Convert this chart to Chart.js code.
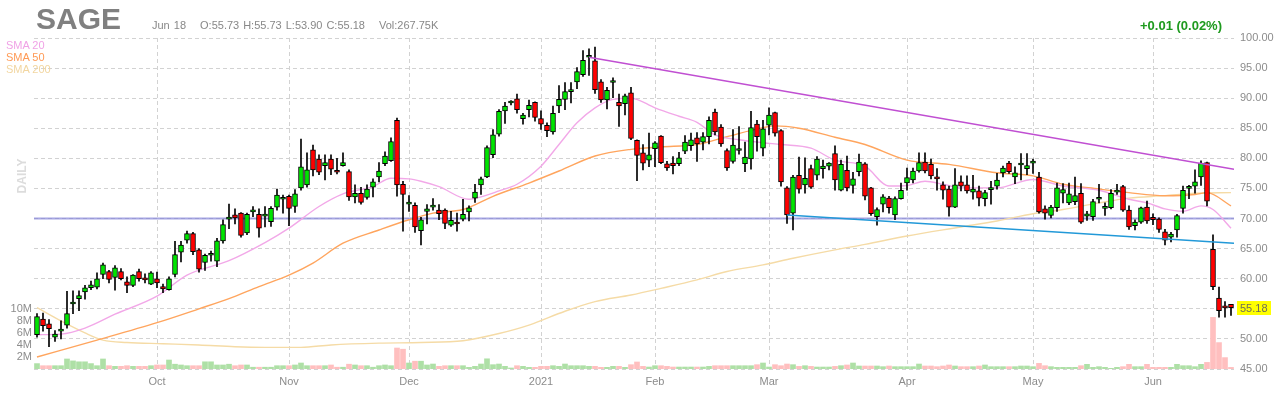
<!DOCTYPE html>
<html>
<head>
<meta charset="utf-8">
<title>SAGE daily</title>
<script src="https://cdn.jsdelivr.net/npm/chart.js@4.4.1/dist/chart.umd.min.js"></script>
<style>
  html, body { margin: 0; padding: 0; background: #fff; }
  #wrap { position: relative; width: 1280px; height: 400px; font-family: 'Liberation Sans', Arial, sans-serif; }
  #chart { position: absolute; left: 0; top: 0; }
  .txt { position: absolute; white-space: nowrap; line-height: 1; }
  #ticker { left: 36px; top: 4px; font-size: 30px; font-weight: bold; color: #808080; }
  #info { left: 152px; top: 20px; font-size: 11px; color: #888; word-spacing: 1px; }
  #info span { margin-right: 14px; }
  #change { right: 58px; top: 19px; font-size: 13px; font-weight: bold; color: #1e9a1e; }
  .leg { left: 6px; font-size: 11px; }
  #daily { left: 2px; top: 170px; width: 40px; text-align: center; font-size: 12px; font-weight: bold; color: #dcdcdc; transform: rotate(-90deg); }
</style>
</head>
<body>
<div id="wrap">
  <canvas id="chart" width="1280" height="400"></canvas>
  <div class="txt" id="ticker">SAGE</div>
  <div class="txt" id="info"><span>Jun 18</span><span style="margin-right:4px">O:55.73</span><span style="margin-right:4px">H:55.73</span><span style="margin-right:4px">L:53.90</span><span>C:55.18</span>Vol:267.75K</div>
  <div class="txt" id="change">+0.01 (0.02%)</div>
  <div class="txt leg" style="top:40px;color:#f0a2e6">SMA 20</div>
  <div class="txt leg" style="top:52px;color:#ff9a55">SMA 50</div>
  <div class="txt leg" style="top:64px;color:#f2d6a0">SMA 200</div>
  <div class="txt" id="daily">DAILY</div>
</div>
<script>
// daily candles, Sep 2 2020 .. Jun 18 2021 (200 sessions)
const opens = [
  50.7, 53.3, 52.5, 50.3, 51.3, 52.3, 55.8, 56.7, 57.8, 58.5,
  58.6, 60.7, 61.2, 60.2, 61.2, 59.5, 58.9, 61.2, 59.9, 59.1,
  60.0, 58.7, 58.2, 60.7, 64.4, 66.4, 67.5, 64.8, 62.7, 63.9,
  62.9, 66.3, 69.9, 70.6, 70.9, 67.6, 71.1, 70.7, 70.4, 69.5,
  71.9, 73.2, 73.7, 72.0, 75.1, 75.6, 81.4, 79.9, 78.8, 79.9,
  77.8, 78.8, 77.8, 73.6, 74.2, 73.5, 75.2, 76.9, 79.1, 79.6,
  86.3, 75.7, 72.4, 72.2, 68.0, 71.2, 71.9, 71.4, 71.4, 68.9,
  69.4, 69.9, 71.1, 73.4, 75.6, 76.9, 80.6, 84.0, 87.9, 89.2,
  89.9, 86.6, 88.1, 89.3, 86.6, 85.5, 84.4, 88.7, 89.8, 91.1,
  92.7, 93.9, 96.8, 96.2, 92.7, 89.7, 92.6, 89.3, 89.1, 90.9,
  83.0, 80.9, 79.7, 81.6, 83.7, 79.1, 79.2, 79.1, 81.2, 82.1,
  83.4, 82.7, 83.6, 87.7, 85.2, 81.3, 79.5, 81.3, 79.1, 79.9,
  85.7, 81.7, 85.5, 87.6, 84.6, 75.1, 70.9, 77.2, 75.6, 78.3,
  77.2, 78.3, 78.7, 80.8, 74.7, 78.0, 75.5, 77.8, 79.1, 75.1,
  70.3, 72.4, 73.4, 70.6, 73.3, 75.9, 76.4, 77.9, 79.4, 79.0,
  76.7, 75.6, 74.9, 71.9, 76.1, 75.6, 74.4, 74.6, 73.3, 74.8,
  75.4, 77.6, 79.2, 76.9, 78.9, 78.3, 79.2, 76.9, 71.6, 70.5,
  71.8, 74.2, 72.6, 72.8, 74.2, 70.4, 70.3, 73.2, 71.7, 71.8,
  74.4, 75.3, 71.4, 68.8, 69.4, 71.9, 70.2, 69.9, 67.8, 66.9,
  68.1, 71.7, 75.0, 75.4, 76.9, 79.3, 64.9, 56.8, 55.4, 55.73
];
const highs = [
  54.2, 54.3, 53.2, 51.4, 53.0, 57.9, 58.0, 58.0, 58.9, 59.6,
  61.0, 62.6, 61.4, 62.2, 61.7, 60.3, 60.7, 61.6, 60.8, 61.2,
  61.1, 59.1, 60.3, 66.2, 66.2, 67.9, 67.7, 65.0, 64.1, 64.6,
  66.7, 69.8, 72.4, 71.6, 71.0, 70.9, 72.0, 71.6, 72.0, 72.0,
  74.9, 73.9, 73.9, 74.8, 83.2, 80.9, 82.2, 80.6, 80.6, 80.6,
  80.0, 80.9, 78.1, 75.6, 75.2, 75.6, 76.6, 79.3, 81.1, 83.4,
  86.7, 76.2, 73.8, 72.6, 70.2, 72.3, 73.3, 72.3, 71.6, 71.2,
  70.9, 73.2, 72.1, 75.7, 76.9, 82.1, 84.8, 88.1, 89.3, 89.6,
  90.7, 87.5, 89.7, 89.4, 87.9, 85.9, 88.7, 92.1, 92.6, 92.6,
  95.1, 97.9, 98.2, 98.5, 93.1, 91.8, 93.4, 90.7, 90.7, 91.8,
  83.1, 82.3, 84.2, 82.8, 83.8, 79.5, 80.3, 81.0, 83.8, 84.2,
  84.3, 84.3, 86.9, 88.2, 85.6, 81.6, 84.8, 85.3, 82.7, 87.8,
  86.3, 86.3, 88.4, 87.7, 84.8, 75.3, 77.2, 80.2, 80.1, 78.9,
  80.3, 79.7, 79.3, 82.1, 79.7, 80.4, 77.7, 80.7, 79.3, 75.2,
  71.8, 74.0, 73.7, 73.6, 75.9, 78.4, 78.4, 80.9, 80.9, 79.9,
  78.3, 76.1, 75.4, 78.3, 77.1, 77.1, 77.2, 75.4, 74.7, 76.2,
  77.5, 78.7, 79.5, 78.6, 80.8, 80.8, 79.9, 77.7, 72.1, 72.2,
  75.9, 75.8, 75.9, 76.9, 75.8, 71.2, 73.2, 75.7, 72.6, 74.8,
  75.7, 75.5, 72.1, 69.8, 71.9, 72.9, 70.8, 70.1, 68.2, 67.7,
  70.7, 75.4, 75.5, 78.1, 79.6, 79.4, 67.3, 58.6, 56.2, 55.73
];
const lows = [
  50.3, 51.3, 48.7, 49.6, 50.0, 51.8, 54.2, 54.7, 56.6, 58.2,
  58.3, 60.0, 59.3, 58.1, 59.8, 57.7, 58.7, 59.6, 59.3, 59.0,
  58.5, 57.7, 58.1, 60.3, 62.8, 65.9, 64.0, 61.1, 61.4, 62.9,
  62.0, 65.9, 68.3, 69.1, 66.9, 67.3, 70.3, 66.9, 68.6, 68.7,
  71.4, 70.9, 68.8, 71.0, 74.7, 75.2, 77.1, 77.3, 76.4, 77.3,
  77.4, 78.7, 73.0, 72.6, 72.4, 73.2, 73.6, 76.1, 78.8, 79.5,
  73.7, 67.9, 71.2, 67.7, 65.6, 69.1, 71.4, 69.8, 68.3, 68.7,
  67.9, 69.6, 69.6, 72.7, 74.0, 76.8, 80.1, 83.7, 85.8, 88.9,
  87.5, 85.7, 86.9, 86.2, 84.8, 83.6, 84.0, 87.6, 88.1, 89.2,
  91.6, 93.6, 93.8, 90.8, 89.3, 88.2, 90.1, 85.3, 87.2, 83.1,
  76.3, 78.1, 78.6, 78.6, 79.1, 78.0, 77.4, 78.8, 80.8, 81.3,
  79.5, 81.4, 82.4, 83.9, 82.0, 78.0, 79.2, 80.7, 77.8, 78.2,
  81.2, 80.4, 83.9, 83.7, 75.4, 69.2, 68.1, 74.2, 74.2, 75.0,
  76.4, 76.7, 78.1, 74.7, 74.6, 74.6, 74.2, 77.1, 73.1, 70.5,
  68.9, 71.1, 70.9, 69.8, 73.2, 74.7, 75.9, 77.7, 77.6, 76.6,
  74.7, 73.2, 70.4, 71.8, 74.6, 74.2, 73.2, 72.1, 72.1, 72.4,
  74.9, 76.9, 77.5, 75.8, 76.4, 77.3, 77.5, 70.9, 69.9, 70.1,
  71.2, 72.6, 72.3, 72.3, 69.2, 69.7, 69.7, 72.6, 70.5, 71.6,
  74.0, 71.2, 68.2, 68.1, 69.2, 69.2, 69.0, 67.7, 65.6, 66.1,
  66.9, 70.9, 73.3, 74.2, 75.5, 72.1, 58.2, 53.6, 53.6, 53.90
];
const closes = [
  53.7, 52.2, 51.7, 50.8, 51.5, 54.2, 55.9, 57.2, 58.5, 59.0,
  60.0, 62.3, 59.9, 61.8, 60.0, 58.9, 60.6, 60.0, 59.8, 61.0,
  59.3, 58.3, 60.0, 64.0, 65.6, 67.5, 64.5, 61.6, 63.9, 63.9,
  66.3, 69.0, 69.9, 70.1, 67.2, 70.7, 71.4, 68.4, 70.7, 71.7,
  73.9, 73.2, 71.7, 74.1, 78.6, 78.1, 78.1, 77.7, 79.3, 78.2,
  77.7, 79.3, 73.6, 74.2, 72.7, 74.9, 76.1, 77.9, 80.4, 82.8,
  75.6, 74.0, 72.4, 68.6, 69.8, 71.6, 71.9, 70.8, 69.2, 69.7,
  69.1, 70.7, 71.8, 74.4, 76.6, 81.8, 83.9, 87.8, 88.7, 89.3,
  88.1, 87.2, 88.8, 86.8, 85.7, 84.6, 87.5, 89.8, 91.1, 91.2,
  94.4, 96.3, 96.8, 91.4, 89.7, 91.3, 92.6, 88.7, 90.4, 83.3,
  80.5, 79.2, 80.6, 82.6, 79.3, 78.4, 78.8, 80.1, 82.7, 83.1,
  82.4, 83.6, 86.3, 84.4, 82.4, 78.4, 82.2, 81.3, 80.2, 85.1,
  83.6, 84.9, 87.2, 84.2, 76.1, 70.6, 76.9, 74.9, 76.7, 75.2,
  79.9, 78.7, 79.2, 76.4, 79.0, 75.1, 76.6, 79.4, 73.7, 70.8,
  71.5, 73.6, 71.8, 73.3, 74.7, 76.8, 77.9, 79.3, 77.9, 77.1,
  76.6, 74.7, 71.9, 75.6, 75.4, 74.6, 74.9, 73.4, 74.3, 74.8,
  76.4, 78.4, 77.8, 77.6, 78.9, 78.8, 79.2, 71.1, 70.9, 71.9,
  75.1, 74.8, 74.1, 73.8, 69.4, 70.8, 72.8, 73.2, 71.7, 74.2,
  74.4, 71.4, 68.6, 69.4, 71.8, 69.6, 69.8, 68.2, 66.4, 67.4,
  70.5, 74.7, 75.1, 76.1, 79.2, 72.9, 58.7, 54.7, 55.17, 55.18
];
// volume in millions
const volumes = [
  0.9, 0.55, 0.55, 0.55, 0.55, 1.67, 1.35, 1.2, 1.2, 0.9,
  0.55, 1.67, 0.55, 0.45, 0.45, 0.55, 0.45, 0.45, 0.45, 0.55,
  0.67, 0.67, 1.5, 0.8, 0.67, 0.55, 0.55, 0.55, 1.2, 1.2,
  0.67, 0.67, 0.8, 0.55, 0.67, 0.67, 0.3, 0.3, 0.3, 0.3,
  0.55, 0.55, 0.55, 0.67, 1.0, 0.55, 0.55, 0.55, 0.55, 0.67,
  0.3, 0.3, 0.8, 0.67, 0.55, 0.55, 0.3, 0.55, 0.67, 0.55,
  3.5, 3.3, 1.0, 1.3, 1.3, 0.67, 0.83, 0.45, 0.55, 0.55,
  0.55, 0.55, 0.28, 0.45, 0.83, 1.7, 0.72, 0.83, 0.45, 0.17,
  0.55, 0.45, 0.28, 0.28, 0.45, 0.45, 0.55, 0.45, 0.83, 0.55,
  0.55, 0.55, 0.45, 0.45, 0.28, 0.28, 0.45, 0.45, 0.28, 0.72,
  1.17, 0.44, 0.33, 0.55, 0.55, 0.44, 0.33, 0.33, 0.33, 0.33,
  0.33, 0.33, 0.44, 0.55, 0.55, 0.55, 0.55, 0.55, 0.55, 0.55,
  0.72, 1.0, 0.33, 0.72, 0.55, 0.83, 0.72, 0.44, 0.55, 0.44,
  0.33, 0.33, 0.33, 0.44, 0.55, 0.67, 1.0, 0.5, 0.5, 0.5,
  0.5, 0.39, 0.5, 0.39, 0.39, 0.39, 0.39, 0.83, 0.5, 0.5,
  0.39, 0.5, 0.67, 0.5, 0.39, 0.39, 0.39, 0.5, 0.67, 0.39,
  0.39, 0.39, 0.39, 0.39, 0.5, 0.5, 0.39, 0.94, 0.55, 0.39,
  0.28, 0.28, 0.28, 0.28, 0.55, 0.78, 0.28, 0.39, 0.28, 0.11,
  0.28, 0.39, 0.78, 0.39, 0.39, 0.78, 0.28, 0.28, 0.28, 0.28,
  0.78, 0.55, 0.55, 0.39, 0.78, 1.1, 8.6, 4.4, 1.9, 0.268
];

// moving averages: [session index, value]
const sma20 = [
  [0, 50.7], [4, 50.8], [8, 51.8], [13, 54.1], [20, 57.1], [25, 60.6], [32, 63.0],
  [38, 66.0], [42, 68.4], [47, 72.0], [51, 74.1], [56, 75.3], [59, 76.7], [62, 76.6],
  [64, 76.2], [67, 75.3], [72, 73.2], [74, 73.6], [77, 74.6], [80, 75.7], [84, 78.7],
  [87, 82.3], [90, 85.9], [93, 88.4], [96, 89.8], [99, 90.0], [103, 88.4], [107, 87.0],
  [110, 86.0], [113, 83.9], [117, 83.1], [121, 82.6], [124, 82.3], [129, 81.7],
  [133, 79.7], [138, 78.7], [142, 75.4], [145, 75.5], [148, 76.2], [151, 75.7],
  [154, 75.1], [160, 75.1], [166, 76.5], [171, 75.4], [177, 74.7], [182, 73.2],
  [185, 72.6], [188, 71.6], [191, 71.2], [194, 72.1], [196, 71.5], [199, 68.4]
];
const sma50 = [
  [0, 47.0], [10, 49.8], [20, 52.7], [27, 55.0], [32, 56.7], [37, 58.7], [42, 60.6],
  [46, 62.6], [51, 65.9], [57, 68.1], [62, 69.8], [66, 70.9], [71, 71.5], [76, 73.7],
  [82, 75.9], [87, 77.9], [93, 80.4], [99, 81.5], [104, 81.9], [110, 82.3], [115, 83.6],
  [121, 85.1], [123, 85.4], [127, 85.0], [133, 83.5], [138, 82.3], [145, 79.7],
  [152, 79.0], [160, 77.6], [166, 77.1], [171, 75.7], [177, 74.9], [182, 74.3],
  [188, 73.8], [193, 74.0], [195, 74.3], [199, 72.1]
];
const sma200 = [
  [0, 55.2], [4, 53.0], [8, 51.0], [11, 49.8], [15, 49.4], [21, 49.2], [27, 49.0],
  [33, 48.7], [38, 48.6], [44, 48.6], [49, 49.0], [57, 49.3], [64, 49.4], [71, 49.7],
  [77, 50.9], [82, 52.3], [88, 54.6], [93, 56.2], [99, 57.3], [104, 58.4], [110, 59.8],
  [115, 61.2], [121, 62.3], [126, 63.4], [133, 64.8], [138, 65.7], [145, 67.1],
  [154, 68.6], [160, 69.6], [166, 70.8], [171, 71.5], [177, 72.6], [182, 73.4],
  [188, 73.8], [193, 74.2], [199, 74.3]
];

// drawn lines
const resistLine = [[92, 96.8], [199.5, 78.2]];
const supportLine = [[125, 70.6], [199.5, 65.9]];
const levelLine = [[-0.5, 70], [199.5, 70]];

// x axis month starts
const monthIdx = [20, 42, 62, 84, 103, 122, 145, 166, 186];
const monthNames = ['Oct', 'Nov', 'Dec', '2021', 'Feb', 'Mar', 'Apr', 'May', 'Jun'];
const volTicks = [2, 4, 6, 8, 10];

const UP = '#00e400', DOWN = '#ff0000';
const VOL_UP = '#aee0a6', VOL_DOWN = '#ffbfbf';
const GRID = '#d2d2d2';
const LABEL = '#8c8c8c';
const FONT = { family: "'Liberation Sans', Arial, sans-serif", size: 11 };

const isUp = closes.map((c, i) => c >= opens[i]);

function pts(arr) {
    return arr.map(p => ({ x: p[0], y: p[1] }));
}

function smaLine(arr, color) {
    return {
        type: 'line',
        data: pts(arr),
        borderColor: color,
        borderWidth: 1.4,
        pointRadius: 0,
        cubicInterpolationMode: 'monotone',
        yAxisID: 'y',
        order: 6
    };
}

// yellow tag with the last price on the right axis
const lastTag = {
    id: 'lastTag',
    afterDraw(chart) {
        const { ctx, chartArea, scales } = chart;
        const last = closes[closes.length - 1];
        const y = Math.round(scales.y.getPixelForValue(last));
        ctx.save();
        ctx.fillStyle = '#ffff00';
        ctx.fillRect(chartArea.right + 3, y - 7, 34, 14);
        ctx.fillStyle = '#6e6e5a';
        ctx.font = "11px 'Liberation Sans', Arial, sans-serif";
        ctx.textBaseline = 'middle';
        ctx.fillText(last.toFixed(2), chartArea.right + 6, y + 1);
        ctx.restore();
    }
};

const ctx = document.getElementById('chart').getContext('2d');
new Chart(ctx, {
    type: 'bar',
    data: {
        datasets: [
            {
                // bodies
                data: opens.map((o, i) => ({ x: i, y: [Math.min(o, closes[i]), Math.max(o, closes[i])] })),
                backgroundColor: isUp.map(u => u ? UP : DOWN),
                borderColor: '#000',
                borderWidth: 1,
                borderSkipped: false,
                barThickness: 5,
                minBarLength: 2,
                grouped: false,
                yAxisID: 'y',
                order: 1
            },
            {
                // wicks
                data: lows.map((l, i) => ({ x: i, y: [l, highs[i]] })),
                backgroundColor: '#000',
                barThickness: 1,
                grouped: false,
                yAxisID: 'y',
                order: 2
            },
            {
                type: 'line',
                data: pts(resistLine),
                borderColor: '#c04fd2',
                borderWidth: 1.5,
                pointRadius: 0,
                yAxisID: 'y',
                order: 0
            },
            {
                type: 'line',
                data: pts(supportLine),
                borderColor: '#2299d8',
                borderWidth: 1.5,
                pointRadius: 0,
                yAxisID: 'y',
                order: 0
            },
            smaLine(sma20, '#f2a8e8'),
            smaLine(sma50, '#ffa55e'),
            smaLine(sma200, '#f5dba6'),
            {
                type: 'line',
                data: pts(levelLine),
                borderColor: 'rgba(130, 130, 215, 0.7)',
                borderWidth: 2,
                pointRadius: 0,
                yAxisID: 'y',
                order: 8
            },
            {
                // volume
                data: volumes.map((v, i) => ({ x: i, y: v * 1e6 })),
                backgroundColor: isUp.map(u => u ? VOL_UP : VOL_DOWN),
                barThickness: 5,
                grouped: false,
                yAxisID: 'yv',
                order: 9
            }
        ]
    },
    options: {
        responsive: false,
        animation: false,
        events: [],
        layout: { padding: { top: 38, left: 0, right: 0, bottom: 0 } },
        plugins: {
            legend: { display: false },
            tooltip: { enabled: false }
        },
        scales: {
            x: {
                type: 'linear',
                min: -0.5,
                max: 199.5,
                offset: false,
                afterBuildTicks: scale => {
                    scale.ticks = monthIdx.map(v => ({ value: v }));
                },
                afterFit: scale => { scale.height = 31; },
                ticks: {
                    autoSkip: false,
                    maxRotation: 0,
                    padding: 6,
                    color: LABEL,
                    font: FONT,
                    callback: v => monthNames[monthIdx.indexOf(v)]
                },
                grid: { color: GRID, offset: false, drawTicks: false },
                border: { display: false, dash: [4, 3] }
            },
            y: {
                position: 'right',
                min: 45,
                max: 100,
                afterFit: scale => { scale.width = 46; },
                ticks: {
                    stepSize: 5,
                    padding: 6,
                    color: LABEL,
                    font: FONT,
                    callback: v => v.toFixed(2)
                },
                grid: { color: GRID, drawTicks: false },
                border: { display: false, dash: [4, 3] }
            },
            yv: {
                position: 'left',
                min: 0,
                max: 331 / 6 * 1e6,
                afterBuildTicks: scale => {
                    scale.ticks = volTicks.map(v => ({ value: v * 1e6 }));
                },
                afterFit: scale => { scale.width = 34; },
                ticks: {
                    padding: 2,
                    color: LABEL,
                    font: FONT,
                    callback: v => (v / 1e6) + 'M'
                },
                grid: { display: false, drawTicks: false },
                border: { display: false }
            }
        }
    },
    plugins: [lastTag]
});
</script>
</body>
</html>
